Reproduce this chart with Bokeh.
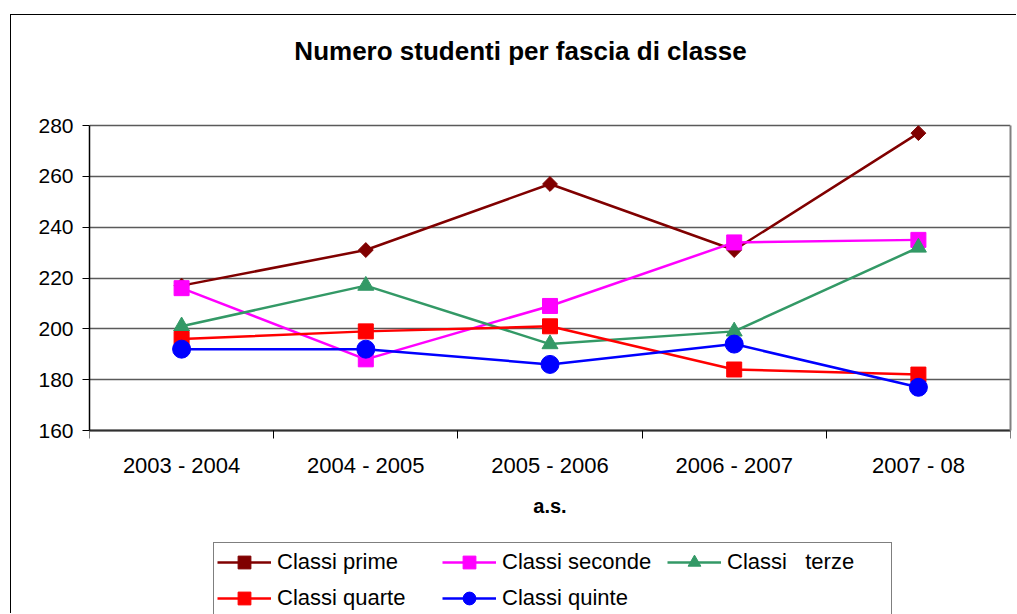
from bokeh.plotting import figure
from bokeh.models import Range1d, FixedTicker, Legend, LegendItem, LinearAxis, Label
from bokeh.embed import file_html
from bokeh.resources import INLINE
import math

# ---- data ----
categories = ["2003 - 2004", "2004 - 2005", "2005 - 2006", "2006 - 2007", "2007 - 08"]
classi_prime = [217, 231, 257, 231, 277]
classi_seconde = [216, 188, 209, 234, 235]
classi_terze = [201, 217, 194, 199, 232]
classi_quarte = [196, 199, 201, 184, 182]
classi_quinte = [192, 192, 186, 194, 177]
series_names = ["Classi prime", "Classi seconde", "Classi   terze", "Classi quarte", "Classi quinte"]
y_ticks = [160, 180, 200, 220, 240, 260, 280]
title_text = "Numero studenti per fascia di classe"
x_title = "a.s."

FONT = "Liberation Sans"
xs = list(range(len(categories)))

# ---- layout (pixels) ----
FIG_W, FIG_H = 1006, 599
LEFT, RIGHT = 78, 7
VAL_TOP = 110          # from top of canvas to the 280 line
VAL_H = 305            # height of the value area (160..280)
FRAME_W = FIG_W - LEFT - RIGHT
px_per_unit = VAL_H / (y_ticks[-1] - y_ticks[0])
y_end = y_ticks[-1] + VAL_TOP / px_per_unit
y_start = y_ticks[0] - (FIG_H - VAL_TOP - VAL_H) / px_per_unit
x_start, x_end = -0.5, len(categories) - 0.5

p = figure(width=FIG_W, height=FIG_H, output_backend="svg", toolbar_location=None,
           x_range=Range1d(x_start, x_end), y_range=Range1d(y_start, y_end),
           x_axis_location=None,
           min_border_left=LEFT, min_border_right=RIGHT, min_border_top=0,
           min_border_bottom=0, margin=(14, 0, 0, 10))
p.styles = {"border-left": "1px solid black", "border-top": "1px solid black"}
p.background_fill_color = "white"
p.border_fill_color = "white"
p.outline_line_color = None
p.title.text = ""
p.title.visible = False

# title as a label inside the canvas frame
title = Label(x=x_start + (520 - 89) * (x_end - x_start) / FRAME_W,
              y=y_ticks[-1] + 75 / px_per_unit,
              text=title_text, text_font=FONT, text_font_size="26px",
              text_font_style="bold", text_align="center", text_baseline="middle",
              text_color="black")
p.add_layout(title)

# x axis at the bottom of the value area
xa = LinearAxis(fixed_location=y_ticks[0])
xa.ticker = FixedTicker(ticks=xs, minor_ticks=[i - 0.5 for i in range(len(categories) + 1)])
xa.major_label_overrides = {i: c for i, c in enumerate(categories)}
xa.major_tick_line_color = None
xa.major_tick_out = 0
xa.major_tick_in = 0
xa.minor_tick_line_color = "black"
xa.minor_tick_out = 8
xa.minor_tick_in = 0
xa.axis_line_color = "#303030"
xa.axis_line_width = 2
xa.major_label_text_font = FONT
xa.major_label_text_font_size = "22px"
xa.major_label_text_color = "black"
xa.major_label_standoff = 14
xa.axis_label = x_title
xa.axis_label_text_font = FONT
xa.axis_label_text_font_size = "20px"
xa.axis_label_text_font_style = "bold"
xa.axis_label_text_color = "black"
xa.axis_label_standoff = 14
p.add_layout(xa, "below")

ya = p.yaxis[0]
ya.bounds = (y_ticks[0], y_ticks[-1])
ya.ticker = FixedTicker(ticks=y_ticks)
ya.minor_tick_line_color = None
ya.major_tick_out = 7
ya.major_tick_in = 0
ya.major_tick_line_color = "black"
ya.axis_line_color = "black"
ya.axis_line_width = 1.5
ya.major_label_text_font = FONT
ya.major_label_text_font_size = "21px"
ya.major_label_text_color = "black"
ya.major_label_standoff = 9

# right border of the value area
ra = LinearAxis(bounds=(y_ticks[0], y_ticks[-1]), ticker=FixedTicker(ticks=[]),
                axis_line_color="#808080", axis_line_width=2,
                major_tick_line_color=None, minor_tick_line_color=None,
                major_label_standoff=0)
p.add_layout(ra, "right")

p.xgrid.visible = False
p.ygrid.grid_line_color = "#5a5a5a"
p.ygrid.grid_line_width = 1.3

# series
series = [
    (classi_prime, "#800000", "square", 10.5, math.pi / 4),
    (classi_seconde, "#FF00FF", "square", 15, 0),
    (classi_terze, "#339966", "triangle", 16, 0),
    (classi_quarte, "#FF0000", "square", 15, 0),
    (classi_quinte, "#0000FF", "circle", 18, 0),
]
items = []
for name, (vals, color, marker, size, angle) in zip(series_names, series):
    ln = p.line(xs, vals, line_color=color, line_width=2.5)
    sc = p.scatter(xs, vals, marker=marker, size=size, angle=angle,
                   fill_color=color, line_color=color)
    items.append(LegendItem(label=name, renderers=[ln, sc]))

legend = Legend(items=items, orientation="horizontal", ncols=3,
                location=(124, -4), margin=0, padding=3, spacing=4,
                glyph_width=54, glyph_height=32, label_height=32, label_width=161,
                label_standoff=6, label_text_font=FONT, label_text_font_size="22px",
                label_text_color="black", border_line_color="black",
                border_line_width=1, background_fill_color="white",
                background_fill_alpha=1.0)
p.add_layout(legend, "center")

open("out.html", "w").write(file_html(p, INLINE))
